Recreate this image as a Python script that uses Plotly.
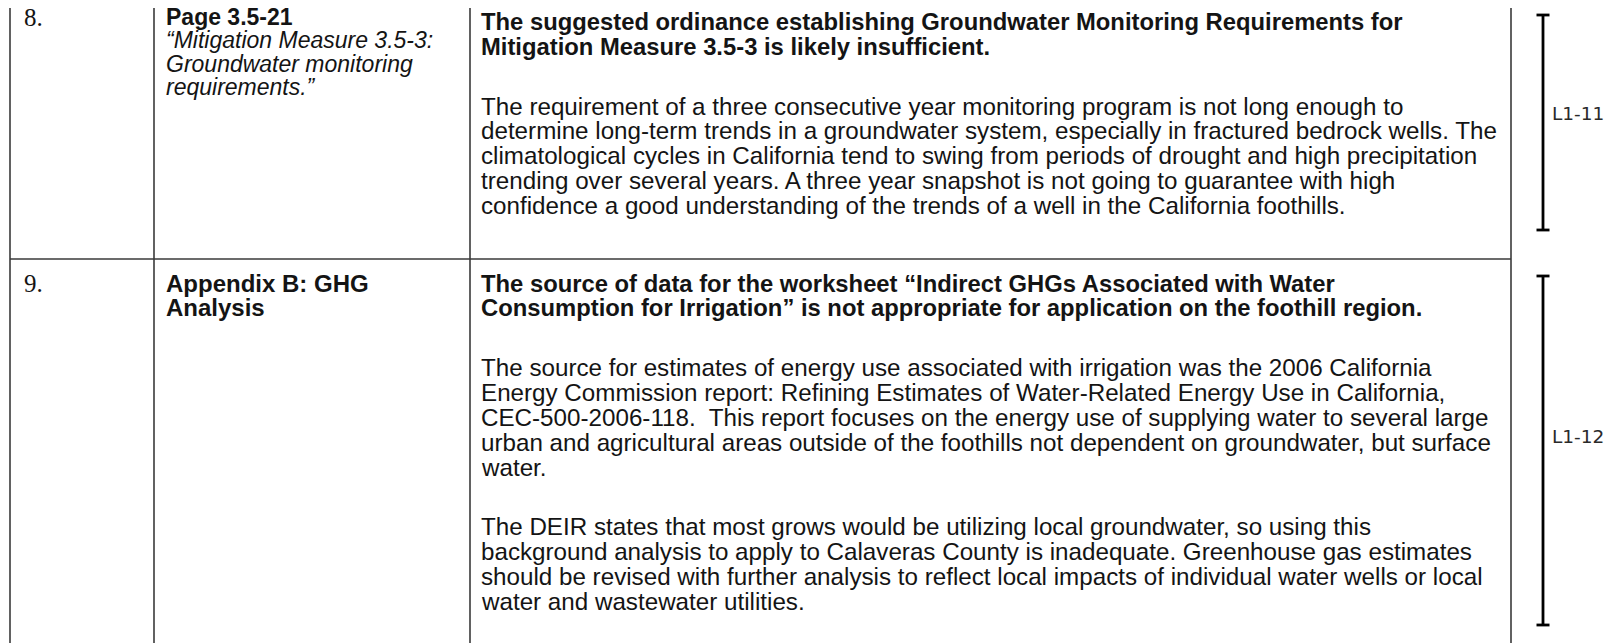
import plotly.graph_objects as go

# ---------------- content ----------------
item_numbers = ["8.", "9."]

ref_lines = [
    [("b", "Page 3.5-21"), ("i", "“Mitigation Measure 3.5-3:"),
     ("i", "Groundwater monitoring"), ("i", "requirements.”")],
    [("b", "Appendix B: GHG"), ("b", "Analysis")],
]

comment_paragraphs = [
    [
        ("b", ["The suggested ordinance establishing Groundwater Monitoring Requirements for",
               "Mitigation Measure 3.5-3 is likely insufficient."]),
        ("n", ["The requirement of a three consecutive year monitoring program is not long enough to",
               "determine long-term trends in a groundwater system, especially in fractured bedrock wells. The",
               "climatological cycles in California tend to swing from periods of drought and high precipitation",
               "trending over several years. A three year snapshot is not going to guarantee with high",
               "confidence a good understanding of the trends of a well in the California foothills."]),
    ],
    [
        ("b", ["The source of data for the worksheet “Indirect GHGs Associated with Water",
               "Consumption for Irrigation” is not appropriate for application on the foothill region."]),
        ("n", ["The source for estimates of energy use associated with irrigation was the 2006 California",
               "Energy Commission report: Refining Estimates of Water-Related Energy Use in California,",
               "CEC-500-2006-118.\u00a0 This report focuses on the energy use of supplying water to several large",
               "urban and agricultural areas outside of the foothills not dependent on groundwater, but surface",
               "water."]),
        ("n", ["The DEIR states that most grows would be utilizing local groundwater, so using this",
               "background analysis to apply to Calaveras County is inadequate. Greenhouse gas estimates",
               "should be revised with further analysis to reflect local impacts of individual water wells or local",
               "water and wastewater utilities."]),
    ],
]

bracket_labels = ["L1-11", "L1-12"]

# ---------------- layout geometry (screen pixel coordinates) ----------------
W, H = 1614, 643
PAGE_MARGIN = 8   # default HTML body margin; axes are offset so coords = screen pixels
col_edges = [10, 154, 470, 1511]
row_edges = [7, 259, 700]
first_line_y = [21.6, 283.0]      # centre of first comment line per row
ref_first_y = [17.0, 283.0]       # centre of first reference line per row
ref_pitch = [23.4, 24.9]
pitch = 24.9
para_gap = 59.5
pad_x = [12, 10, 9]
bracket_x = 1543
bracket_spans = [(15, 230), (276, 625)]
label_y = [113, 436]
label_x = 1550
label_box_w = 58

SANS = "Liberation Sans, Arial, sans-serif"
SERIF = "Liberation Serif, Times New Roman, serif"
FS = 24.2          # body text
FS_BOLD = 23.8     # bold headings in comment column
FS_REF = [23.0, 24.0]
INK = "#141414"

fig = go.Figure()
shapes = []
annotations = []

line_col = "#3a3a3a"
# vertical borders
for x in col_edges:
    shapes.append(dict(type="line", x0=x, x1=x, y0=row_edges[0], y1=row_edges[-1],
                       line=dict(color=line_col, width=1.6)))
# horizontal borders
for y in row_edges[:-1]:
    shapes.append(dict(type="line", x0=col_edges[0], x1=col_edges[-1], y0=y, y1=y,
                       line=dict(color=line_col, width=1.6)))


def text(x, y, s, font=SANS, size=FS, style="n", color=INK, width=None):
    if style == "b":
        s = "<b>" + s + "</b>"
    elif style == "i":
        s = "<i>" + s + "</i>"
    ann = dict(x=x, y=y, xref="x", yref="y", text=s, showarrow=False,
               xanchor="left", yanchor="middle", align="left",
               font=dict(family=font, size=size, color=color))
    if width is not None:
        ann["width"] = width
    annotations.append(ann)


for r, num in enumerate(item_numbers):
    # number column
    text(col_edges[0] + pad_x[0], ref_first_y[r], num, font=SERIF, size=25)
    # reference column
    for k, (st, s) in enumerate(ref_lines[r]):
        text(col_edges[1] + pad_x[1], ref_first_y[r] + k * ref_pitch[r], s, style=st,
             size=FS_REF[r])
    # comment column
    y = first_line_y[r]
    for p, (st, lines) in enumerate(comment_paragraphs[r]):
        if p > 0:
            y += para_gap - pitch
        for ln in lines:
            text(col_edges[2] + pad_x[2], y, ln, style=st, size=FS_BOLD if st == "b" else FS)
            y += pitch

# brackets + labels
for (y0, y1), lab, ly in zip(bracket_spans, bracket_labels, label_y):
    shapes.append(dict(type="line", x0=bracket_x, x1=bracket_x, y0=y0, y1=y1,
                       line=dict(color="#000", width=2.8)))
    for yy in (y0, y1):
        shapes.append(dict(type="line", x0=bracket_x - 6.5, x1=bracket_x + 6.5, y0=yy, y1=yy,
                           line=dict(color="#000", width=2.8)))
    text(label_x, ly, lab, font="DejaVu Sans, sans-serif", size=18.5,
         color="#2a2a2a", width=label_box_w)

fig.update_layout(
    width=W, height=H,
    margin=dict(l=0, r=0, t=0, b=0),
    paper_bgcolor="white", plot_bgcolor="white",
    xaxis=dict(range=[PAGE_MARGIN, W + PAGE_MARGIN], visible=False, fixedrange=True),
    yaxis=dict(range=[H + PAGE_MARGIN, PAGE_MARGIN], visible=False, fixedrange=True),
    shapes=shapes, annotations=annotations, showlegend=False,
)

fig.write_html("out.html")
